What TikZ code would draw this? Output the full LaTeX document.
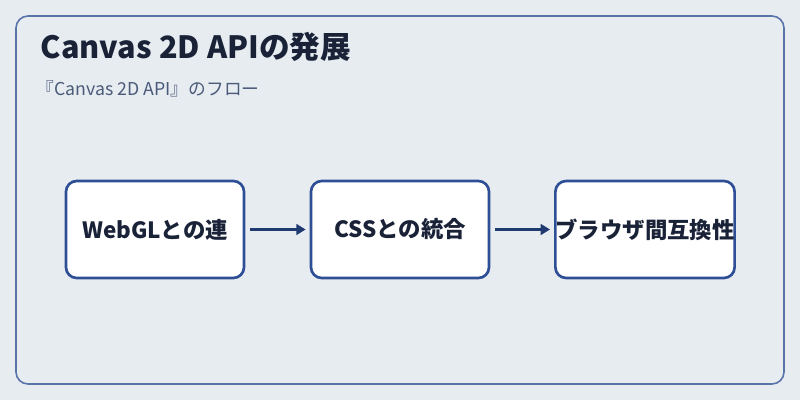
\documentclass[tikz,border=0pt]{standalone}
\usepackage{fontspec}
\setmainfont{Noto Sans CJK JP}
\usetikzlibrary{arrows.meta}
\definecolor{bg}{HTML}{E7ECF1}
\definecolor{frame}{HTML}{5B73A8}
\definecolor{boxb}{HTML}{2E4E95}
\definecolor{txt}{HTML}{1A2238}
\definecolor{sub}{HTML}{4A5A78}
\definecolor{arr}{HTML}{1F3A70}
\tikzset{
 stepbox/.style={draw=boxb,line width=2pt,fill=white,rounded corners=8pt,minimum width=133.5pt,minimum height=72.75pt,font=\bfseries\fontsize{16.8}{19}\selectfont,text=txt,inner sep=0pt},
 link/.style={draw=arr,line width=2.4pt,-{Triangle[length=7pt,width=8pt]}}
}
\begin{document}
\begin{tikzpicture}[x=0.75pt,y=-0.75pt]
\fill[bg] (0,0) rectangle (800,400);
\useasboundingbox (0,0) rectangle (800,400);
\draw[frame,line width=1.2pt,rounded corners=9pt] (16,16) rectangle (784,384);
\node[anchor=west,text=txt,font=\bfseries\fontsize{23}{26}\selectfont] (title) at (36,47) {Canvas 2D APIの発展};
\node[anchor=west,text=sub,font=\fontsize{13.3}{16}\selectfont] (subt) at (32,89) {『Canvas 2D API』のフロー};
\node[stepbox] (a) at (155,229.5) {WebGLとの連};
\node[stepbox] (b) at (400,229.5) {CSSとの統合};
\node[stepbox] (c) at (645,229.5) {ブラウザ間互換性};
\draw[link] (a.east)++(5,0) -- ([xshift=-3pt]b.west);
\draw[link] (b.east)++(5,0) -- ([xshift=-3pt]c.west);
\end{tikzpicture}
\end{document}
